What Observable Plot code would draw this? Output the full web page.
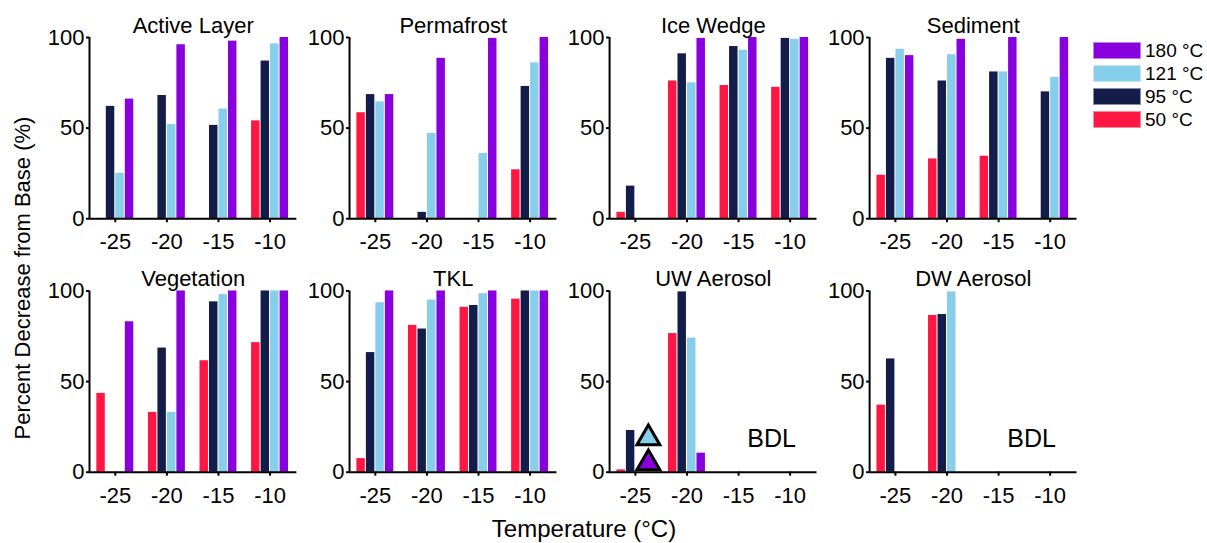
<!DOCTYPE html>
<html>
<head>
<meta charset="utf-8">
<script src="https://cdn.jsdelivr.net/npm/d3@7"></script>
<script src="https://cdn.jsdelivr.net/npm/@observablehq/plot@0.6"></script>
<style>
  body { margin: 0; background: white; }
  #wrap { position: relative; width: 1207px; height: 543px; font-family: "Liberation Sans", Arial, sans-serif; color: black; }
  .lab { position: absolute; white-space: nowrap; transform: translate(-50%, -50%); line-height: 1; }
  #legend { position: absolute; left: 1093px; top: 42px; font-size: 19px; }
  .item { display: flex; align-items: center; height: 17px; margin-bottom: 6px; }
  .sw { width: 48px; height: 17px; margin-right: 4px; box-sizing: border-box; border: 1px solid rgba(255,255,255,0.5); }
</style>
</head>
<body>
<div id="wrap">
  <div id="chart"></div>
  <div class="lab" style="left:23px;top:278px;font-size:22px;transform:translate(-50%,-50%) rotate(-90deg);">Percent Decrease from Base (%)</div>
  <div class="lab" style="left:584px;top:529px;font-size:24px;">Temperature (°C)</div>
  <div id="legend"></div>
</div>
<script>
// ---- data ----
const temps = [-25, -20, -15, -10];
const seriesNames = ["50 °C", "95 °C", "121 °C", "180 °C"];
const seriesColors = ["#FF1744", "#141C4A", "#87CEEB", "#8800DD"];
const legendOrder = ["180 °C", "121 °C", "95 °C", "50 °C"];
const panels = ["Active Layer", "Permafrost", "Ice Wedge", "Sediment",
                "Vegetation", "TKL", "UW Aerosol", "DW Aerosol"];

// each panel: one array per series (50, 95, 121, 180 °C), values at -25, -20, -15, -10
const activeLayer = [[null, null, null, 54], [62, 68, 51.5, 87], [25, 52, 60.5, 96.5], [66, 96, 98, 100]];
const permafrost  = [[58.5, null, null, 27], [68.5, 3.5, null, 73], [64.5, 47, 36, 86], [68.5, 88.5, 99.5, 100]];
const iceWedge    = [[3.5, 76, 73.5, 72.5], [18, 91, 95, 99.5], [null, 75, 93, 99], [null, 99.5, 100, 100]];
const sediment    = [[24, 33, 34.5, null], [88.5, 76, 81, 70], [93.5, 90.5, 81, 78], [90, 99, 100, 100]];
const vegetation  = [[43.5, 33, 61.5, 71.5], [null, 68.5, 94, 100], [null, 33, 98, 100], [83, 100, 100, 100]];
const tkl         = [[7.5, 81, 91, 95.5], [66, 79, 92, 100], [93.5, 95, 98.5, 100], [100, 100, 100, 100]];
const uwAerosol   = [[1.3, 76.5, null, null], [23, 99.5, null, null], [null, 74, null, null], [null, 10.5, null, null]];
const dwAerosol   = [[37, 86.5, null, null], [62.5, 87, null, null], [null, 99.5, null, null], [null, null, null, null]];
const panelValues = [activeLayer, permafrost, iceWedge, sediment, vegetation, tkl, uwAerosol, dwAerosol];

const bdlPanels = ["UW Aerosol", "DW Aerosol"];
const uwMarkers = [{panel: "UW Aerosol", temp: -25, series: "121 °C"},
                   {panel: "UW Aerosol", temp: -25, series: "180 °C"}];

// ---- layout constants ----
const SLOT = 0.92, BAR = 0.82;
const xDomain = [-27.5, -7.4];

const pos = name => { const i = panels.indexOf(name); return {col: i % 4, row: Math.floor(i / 4)}; };

const bars = [];
panelValues.forEach((vals, p) => vals.forEach((arr, s) => arr.forEach((v, t) => {
  if (v != null) bars.push({panel: panels[p], ...pos(panels[p]), temp: temps[t], series: seriesNames[s], si: s, value: v});
})));
const titles = panels.map(name => ({name, ...pos(name)}));
const bdl = bdlPanels.map(name => ({name, ...pos(name)}));
const markers = uwMarkers.map(d => ({...d, ...pos(d.panel)}));

const chart = Plot.plot({
  width: 1207,
  height: 543,
  marginLeft: 89,
  marginRight: 130.5,
  marginTop: 37,
  marginBottom: 71.3,
  style: {fontFamily: "'Liberation Sans', Arial, sans-serif", color: "black", background: "white", overflow: "visible"},
  fx: {domain: [0, 1, 2, 3], paddingInner: 0.2025, paddingOuter: 0, round: false, axis: null},
  fy: {domain: [0, 1], paddingInner: 0.285, paddingOuter: 0, round: false, axis: null},
  x: {domain: xDomain},
  y: {domain: [0, 100]},
  color: {domain: seriesNames, range: seriesColors},
  marks: [
    Plot.rect(bars, {
      x1: d => d.temp + (d.si - 1.5) * SLOT - BAR / 2,
      x2: d => d.temp + (d.si - 1.5) * SLOT + BAR / 2,
      y1: 0, y2: "value", fill: "series", fx: "col", fy: "row"
    }),
    Plot.dot(markers.filter(d => d.series === "121 °C"), {
      x: "temp", fx: "col", fy: "row", frameAnchor: "bottom", dx: 13, dy: -34,
      symbol: "triangle", r: 8.5, fill: "series", stroke: "black", strokeWidth: 3
    }),
    Plot.dot(markers.filter(d => d.series === "180 °C"), {
      x: "temp", fx: "col", fy: "row", frameAnchor: "bottom", dx: 13, dy: -9,
      symbol: "triangle", r: 8.5, fill: "series", stroke: "black", strokeWidth: 3
    }),
    Plot.ruleY([0], {stroke: "black", strokeWidth: 2}),
    Plot.ruleX([xDomain[0]], {stroke: "black", strokeWidth: 2}),
    Plot.axisX({ticks: temps, tickFormat: d => String(d), tickSize: 4, tickPadding: 11,
                fontSize: 22, strokeWidth: 2, facetAnchor: null, label: null}),
    Plot.axisY({ticks: [0, 50, 100], tickFormat: d => String(d), tickSize: 3, tickPadding: 2,
                fontSize: 22, strokeWidth: 2, facetAnchor: null, label: null}),
    Plot.text(titles, {fx: "col", fy: "row", text: "name", frameAnchor: "top",
                       lineAnchor: "bottom", dy: -5, fontSize: 22}),
    Plot.text(bdl, {fx: "col", fy: "row", text: () => "BDL", frameAnchor: "bottom-right",
                    textAnchor: "end", lineAnchor: "bottom", dx: -21, dy: -25, fontSize: 25})
  ]
});
document.getElementById("chart").appendChild(chart);

// legend
const legend = document.getElementById("legend");
legendOrder.forEach(name => {
  const item = document.createElement("div");
  item.className = "item";
  const sw = document.createElement("div");
  sw.className = "sw";
  sw.style.background = seriesColors[seriesNames.indexOf(name)];
  const tx = document.createElement("span");
  tx.textContent = name;
  item.appendChild(sw); item.appendChild(tx);
  legend.appendChild(item);
});
</script>
</body>
</html>
